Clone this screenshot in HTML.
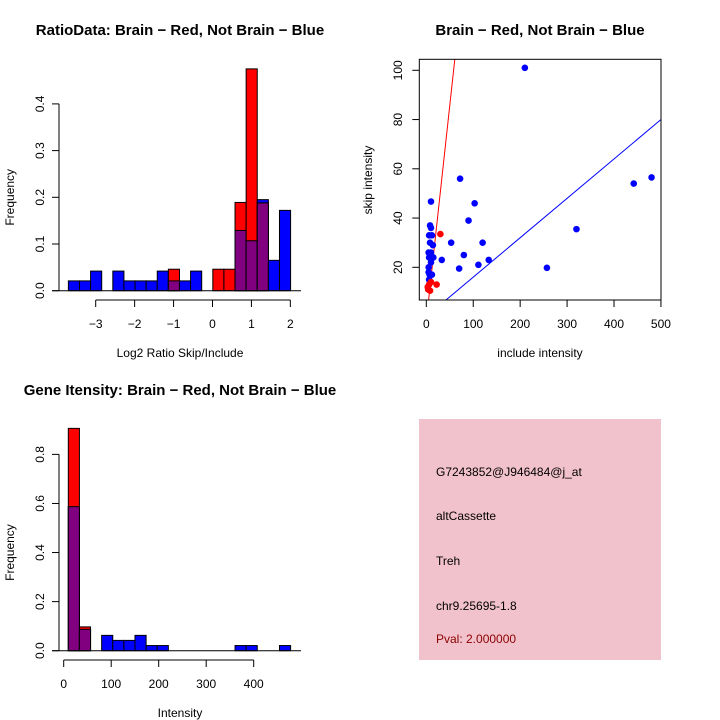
<!DOCTYPE html>
<html><head><meta charset="utf-8">
<style>
html,body{margin:0;padding:0;background:#fff;}
svg{display:block;font-family:"Liberation Sans",sans-serif;}
</style></head>
<body>
<svg id="chart" width="720" height="720" viewBox="0 0 720 720" xmlns="http://www.w3.org/2000/svg">
<rect width="720" height="720" fill="#fff"/>
<g id="p1"></g>
<g id="p2"></g>
<g id="p3"></g>
<g>
<rect x="419" y="419" width="242" height="241" fill="#f2c2cc"/>
<text x="436" y="476" font-size="12" fill="#000">G7243852@J946484@j_at</text>
<text x="436" y="520" font-size="12" fill="#000">altCassette</text>
<text x="436" y="565" font-size="12" fill="#000">Treh</text>
<text x="436" y="610" font-size="12" fill="#000">chr9.25695-1.8</text>
<text x="436" y="643" font-size="12" fill="#8b0000">Pval: 2.000000</text>
</g>
</svg>
<script>
// ---- Ratio histogram data ----
const ratioBlue = [0.021,0.021,0.042,0,0.042,0.021,0.021,0.021,0.042,0.021,0.021,0.042,0,0,0,0.129,0.107,0.195,0.065,0.172];
const ratioRed  = [0,0,0,0,0,0,0,0,0,0.046,0,0,0,0.046,0.046,0.189,0.475,0.188,0,0];
const ratioYTicks = [0,0.1,0.2,0.3,0.4];
const ratioXTicks = [-3,-2,-1,0,1,2];
const ratioBinStart = -3.702, ratioBinWidth = 0.2854;
// ---- Scatter data ----
const blueInclude = [210,72,480,442,103,90,320,10,53,120,80,133,111,33,70,257,8,10,6,12,8,14,5,10,15,6,5,10,7,12,6,8,5];
const blueSkip    = [101,56,56.5,54,46,39,35.5,46.7,30,30,25,23,21,23,19.5,19.8,37,36,33,33,30,29,26,26,24,24,20,22,17,17,15,14,18];
const redInclude  = [30,22,8,4,3,6,10];
const redSkip     = [33.5,13,10.5,11,12,13,14];
const scatXTicks = [0,100,200,300,400,500];
const scatYTicks = [20,40,60,80,100];
const redLine = [1.75,-1.8];   // slope, intercept
const blueLine = [0.16,0];
// ---- Intensity histogram data ----
const intBlue = [0.587,0.087,0,0.0625,0.042,0.042,0.0625,0.021,0.021,0,0,0,0,0,0,0.021,0.021,0,0,0.021];
const intRed  = [0.906,0.097,0,0,0,0,0,0,0,0,0,0,0,0,0,0,0,0,0,0];
const intXTicks = [0,100,200,300,400];
const intYTicks = [0,0.2,0.4,0.6,0.8];
const intBinStart = 9.7, intBinWidth = 23.4;

const NS="http://www.w3.org/2000/svg";
function mk(parent,tag,attrs,txt){const e=document.createElementNS(NS,tag);for(const k in attrs)e.setAttribute(k,attrs[k]);if(txt!==undefined)e.textContent=txt;parent.appendChild(e);return e;}

function hist(g,o){
  const X=v=>o.x0+(v-o.xv0)*o.xs, Y=v=>o.y0-v*o.ys;
  const t=mk(g,'text',{x:o.tx,y:o.ty,'font-size':15,'font-weight':'bold','text-anchor':'middle'},o.title);
  
  
  const yl=mk(g,'text',{x:14,y:(o.y0+Y(o.yTicks[o.yTicks.length-1]))/2,'font-size':12,'text-anchor':'middle',transform:`rotate(-90 14 ${(o.y0+Y(o.yTicks[o.yTicks.length-1]))/2})`},'Frequency');
  
  
  const xl=mk(g,'text',{x:o.xlx,y:o.xly,'font-size':12,'text-anchor':'middle'},o.xlabel);
  
  
  o.blue.forEach((b,i)=>{
    const r=o.red[i], a=o.bs+i*o.bw, x1=X(a), w=o.bw*o.xs;
    const m=Math.min(b,r);
    if(b>0){const e=mk(g,'rect',{x:x1,y:Y(b),width:w,height:Y(0)-Y(b),fill:'#0000ff',stroke:'#000','stroke-width':1});
      
      }
    if(r>0){const e=mk(g,'rect',{x:x1,y:Y(r),width:w,height:Y(0)-Y(r),fill:'#ff0000',stroke:'#000','stroke-width':1});
      
      }
    if(m>0){const e=mk(g,'rect',{x:x1,y:Y(m),width:w,height:Y(0)-Y(m),fill:'#800080',stroke:'#000','stroke-width':1});
      
      }
  });
  mk(g,'line',{x1:o.bx1,x2:o.bx2,y1:o.y0,y2:o.y0,stroke:'#000'});
  const ya=o.yTicks;
  mk(g,'line',{x1:59,x2:59,y1:Y(ya[0]),y2:Y(ya[ya.length-1]),stroke:'#000'});
  ya.forEach(v=>{mk(g,'line',{x1:52,x2:59,y1:Y(v),y2:Y(v),stroke:'#000'});
    const tl=mk(g,'text',{x:44,y:Y(v),'font-size':12,'text-anchor':'middle',transform:`rotate(-90 44 ${Y(v)})`},String(v).replace('-','\u2212').replace(/^0$/,'0.0'));
    
    });
  const xa=o.xTicks, ay=o.xAxisY;
  mk(g,'line',{x1:X(xa[0]),x2:X(xa[xa.length-1]),y1:ay,y2:ay,stroke:'#000'});
  xa.forEach(v=>{mk(g,'line',{x1:X(v),x2:X(v),y1:ay,y2:ay+7,stroke:'#000'});
    const tl=mk(g,'text',{x:X(v),y:ay+28,'font-size':12,'text-anchor':'middle'},String(v).replace('-','\u2212'));
    
    });
}
hist(document.getElementById('p1'),{title:'RatioData: Brain \u2212 Red, Not Brain \u2212 Blue',tx:180,ty:35,
  xlabel:'Log2 Ratio Skip/Include',xlx:180,xly:357,x0:95.7,xv0:-3,xs:38.93,y0:290.7,ys:467,
  blue:ratioBlue,red:ratioRed,bs:ratioBinStart,bw:ratioBinWidth,yTicks:ratioYTicks,xTicks:ratioXTicks,xAxisY:300,bx1:52,bx2:301});
hist(document.getElementById('p3'),{title:'Gene Itensity: Brain \u2212 Red, Not Brain \u2212 Blue',tx:180,ty:395,
  xlabel:'Intensity',xlx:180,xly:717,x0:63.7,xv0:0,xs:0.475,y0:650.7,ys:245.4,
  blue:intBlue,red:intRed,bs:intBinStart,bw:intBinWidth,yTicks:intYTicks,xTicks:intXTicks,xAxisY:660,bx1:52,bx2:301});

(function(){
  const g=document.getElementById('p2');
  const X=v=>426.3+v*0.4693, Y=v=>267.3-(v-20)*2.4625;
  const L=419.3,R=661,T=59.3,B=300;
  const t=mk(g,'text',{x:540,y:35,'font-size':15,'font-weight':'bold','text-anchor':'middle'},'Brain \u2212 Red, Not Brain \u2212 Blue');
  
  
  const cp=mk(g,'clipPath',{id:'sc'});mk(cp,'rect',{x:L,y:T,width:R-L,height:B-T});
  const pg=mk(g,'g',{'clip-path':'url(#sc)'});
  [[redLine,'#ff0000','red-fit-line'],[blueLine,'#0000ff','blue-fit-line']].forEach(([ln,c,n])=>{
    const e=mk(pg,'line',{x1:X(-10),y1:Y(ln[0]*-10+ln[1]),x2:X(520),y2:Y(ln[0]*520+ln[1]),stroke:c,'stroke-width':1});
    
    
  });
  blueInclude.forEach((v,i)=>{const e=mk(pg,'circle',{cx:X(v),cy:Y(blueSkip[i]),r:3.3,fill:'#0000ff'});
    
    });
  redInclude.forEach((v,i)=>{const e=mk(pg,'circle',{cx:X(v),cy:Y(redSkip[i]),r:3.3,fill:'#ff0000'});
    
    });
  mk(g,'rect',{x:L,y:T,width:R-L,height:B-T,fill:'none',stroke:'#000'});
  scatYTicks.forEach(v=>{mk(g,'line',{x1:L-7,x2:L,y1:Y(v),y2:Y(v),stroke:'#000'});
    const tl=mk(g,'text',{x:402,y:Y(v),'font-size':12,'text-anchor':'middle',transform:`rotate(-90 402 ${Y(v)})`},String(v));
    
    });
  scatXTicks.forEach(v=>{mk(g,'line',{x1:X(v),x2:X(v),y1:B,y2:B+7,stroke:'#000'});
    const tl=mk(g,'text',{x:X(v),y:B+28,'font-size':12,'text-anchor':'middle'},String(v));
    
    });
  const yl=mk(g,'text',{x:372,y:180,'font-size':12,'text-anchor':'middle',transform:'rotate(-90 372 180)'},'skip intensity');
  
  
  const xl=mk(g,'text',{x:540,y:357,'font-size':12,'text-anchor':'middle'},'include intensity');
  
  
})();
</script>
</body></html>
